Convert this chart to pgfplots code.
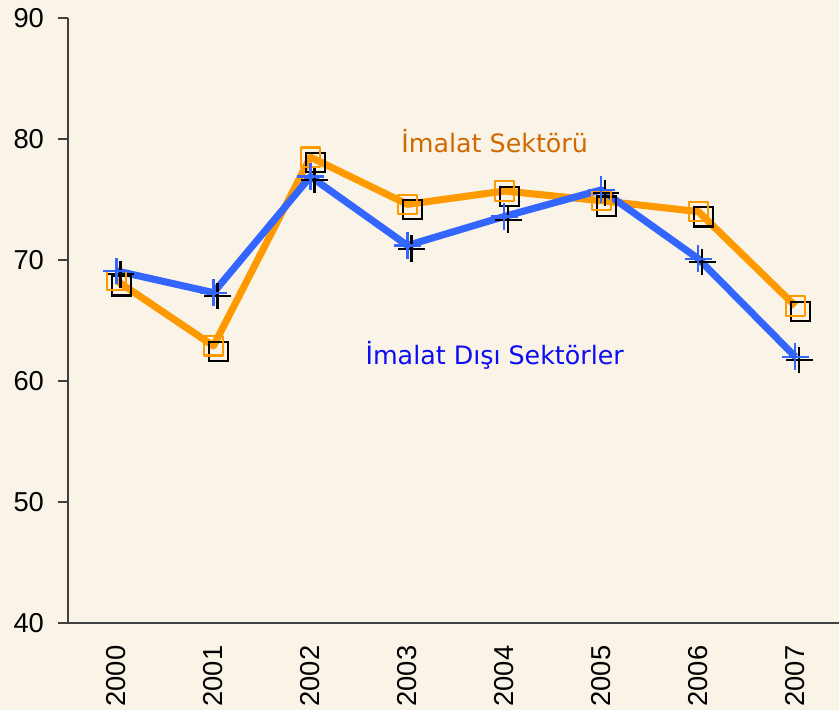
\documentclass[border=0pt]{standalone}
\usepackage{pgfplots}
\pgfplotsset{compat=1.18}
\usepackage{fontspec}
\setmainfont{Liberation Sans}
\newfontfamily\lblfont{DejaVu Sans}
\definecolor{bgc}{HTML}{FAF4E8}
\definecolor{orl}{HTML}{FF9900}
\definecolor{bll}{HTML}{3366FF}
\definecolor{ort}{HTML}{D06A00}
\definecolor{blt}{HTML}{0C0CF5}
\begin{document}
\begin{tikzpicture}
\fill[bgc] (-51pt,-65.25pt) rectangle (578.25pt,467.25pt);
\begin{axis}[
  scale only axis,
  width=578.25pt, height=453.75pt,
  at={(0,0)}, anchor=south west,
  xmin=-0.5, xmax=7.45, ymin=40, ymax=90,
  axis x line*=bottom, axis y line*=left,
  axis line style={black!75, line width=0.9pt},
  ytick={40,50,60,70,80,90},
  xtick={0,...,7},
  xticklabels={2000,2001,2002,2003,2004,2005,2006,2007},
  extra x ticks={-0.5,0.5,1.5,2.5,3.5,4.5,5.5,6.5},
  extra x tick labels={},
  extra x tick style={major tick length=6pt, tick style={black!75, line width=0.9pt}},
  xtick style={draw=none},
  ytick style={black!75, line width=0.9pt},
  tick align=outside,
  major tick length=7.5pt,
  /pgf/number format/assume math mode=true,
  yticklabel style={font=\fontsize{20.5}{20.5}\selectfont, xshift=-7pt},
  xticklabel style={font=\fontsize{20.5}{20.5}\selectfont, rotate=90, anchor=east, xshift=-6pt},
  /pgf/number format/1000 sep={},
  clip=false,
]
% shadows
\addplot[draw=none, mark=square, mark size=7.2pt, mark options={draw=black, line width=1.6pt, xshift=4pt, yshift=-4pt}]
  coordinates {(0,68.3) (1,62.9) (2,78.5) (3,74.6) (4,75.7) (5,74.9) (6,74.0) (7,66.2)};
\addplot[draw=none, mark=+, mark size=10pt, mark options={draw=black, line width=1.6pt, xshift=3pt, yshift=-2.5pt}]
  coordinates {(0,69.1) (1,67.3) (2,76.9) (3,71.2) (4,73.6) (5,75.8) (6,70.1) (7,62.0)};
% orange
\addplot[orl, line width=5.3pt, line join=round, mark=square, mark size=7.2pt, mark options={draw=orl, line width=1.6pt}]
  coordinates {(0,68.3) (1,62.9) (2,78.5) (3,74.6) (4,75.7) (5,74.9) (6,74.0) (7,66.2)};
% blue
\addplot[bll, line width=5.3pt, line join=round, mark=+, mark size=10pt, mark options={draw=bll, line width=1.6pt}]
  coordinates {(0,69.1) (1,67.3) (2,76.9) (3,71.2) (4,73.6) (5,75.8) (6,70.1) (7,62.0)};
\node[text=ort, font=\lblfont\fontsize{19}{19}\selectfont] at (axis cs:3.9,79.8) {İmalat Sektörü};
\node[text=blt, font=\lblfont\fontsize{19}{19}\selectfont] at (axis cs:3.9,62.15) {İmalat Dışı Sektörler};
\end{axis}
\pgfresetboundingbox
\path (-51pt,-65.25pt) rectangle (578.25pt,467.25pt);
\end{tikzpicture}
\end{document}
